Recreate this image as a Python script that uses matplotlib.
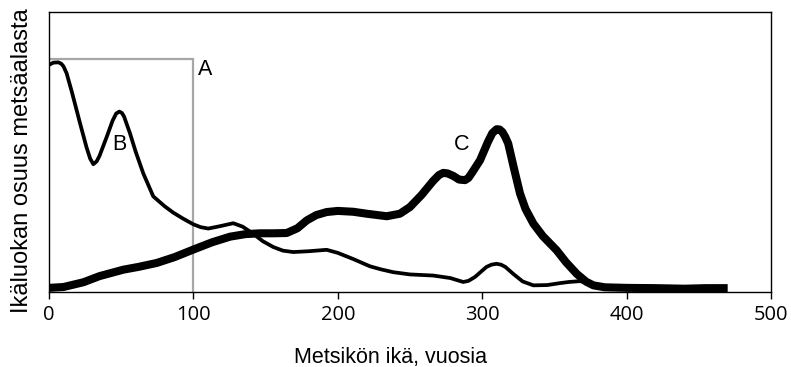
import matplotlib
matplotlib.use("Agg")
import matplotlib.pyplot as plt

# Curve B (young forests)
b_age = [0, 3, 6.5, 8.5, 10, 12.2, 16, 21.5, 26, 28.5, 30.7, 33, 35, 40, 44, 46.5, 48.7, 50.5,
         52, 56.1, 60, 65.3, 72.2, 80, 86, 93, 100, 105, 110.3, 118, 127.6, 134, 141, 148,
         155.3, 162, 169.2, 180, 192.3, 200, 210.7, 222.3, 230, 238.4, 250, 266.1, 278, 283,
         286.9, 290.5, 295, 303, 306.5, 309.9, 313, 316, 321.5, 328, 335.4, 345, 353.9, 360,
         367.7, 375, 382, 390, 400]
b_share = [81.0, 81.8, 81.9, 81.4, 80.5, 78, 71, 60.1, 51.5, 47.5, 45.5, 46.5, 48.5, 55.3, 61,
           63.6, 64.3, 63.8, 62.5, 56.5, 50, 42.2, 34, 30.5, 28.2, 26, 24, 23, 22.5, 23.3, 24.4,
           23.2, 20.8, 18, 15.9, 14.6, 14.1, 14.4, 14.9, 13.8, 11.6, 9.0, 7.9, 6.9, 6.1, 5.7,
           4.8, 4.0, 3.4, 3.8, 5.2, 8.8, 9.6, 9.9, 9.6, 8.8, 6.3, 3.6, 2.2, 2.3, 3.0, 3.4, 3.7,
           2.8, 2.0, 1.5, 1.3]

# Curve C (natural forests)
c_age = [0, 10, 23.8, 35, 51.5, 62, 74.6, 87, 100, 113, 125.4, 136, 146.1, 155, 164.6, 172,
         178.5, 185, 192.3, 200, 210.7, 220, 233.9, 243, 250, 258, 266, 270, 273, 276, 280,
         284, 288.1, 290.5, 293, 298.5, 304, 307, 310, 312, 314, 316, 318, 322, 326.2, 330,
         335.4, 342, 351.6, 358, 365.5, 372, 377, 385, 400, 420, 440, 455, 470]
c_share = [1.3, 1.6, 3.3, 5.5, 7.8, 8.8, 10.2, 12.3, 15.0, 17.6, 19.6, 20.5, 20.8, 20.8, 20.9,
           22.6, 25.4, 27.3, 28.4, 28.8, 28.5, 27.8, 26.9, 27.8, 30.2, 34.5, 39.5, 41.6, 42.4,
           42.2, 41.3, 40.0, 39.8, 40.6, 42.5, 46.9, 53.5, 56.6, 58.0, 57.9, 57.0, 55.2, 52.9,
           44, 35.0, 29.5, 24.3, 19.8, 14.7, 10.5, 6.3, 3.5, 2.2, 1.5, 1.3, 1.2, 1.0, 1.2, 1.2]

# Curve A (even-aged rotation, box)
a_age = [0, 100, 100]
a_share = [83.1, 83.1, 0]

xticks = [0, 100, 200, 300, 400, 500]
xlabel = "Metsikön ikä, vuosia"
ylabel = "Ikäluokan osuus metsäalasta"

fig = plt.figure(figsize=(7.91, 3.67), dpi=100)
ax = fig.add_axes([49 / 791, 1 - 291.5 / 367, (771 - 49) / 791, (291.5 - 11.7) / 367])

ax.plot(a_age, a_share, color="#a6a6a6", lw=1.6, solid_joinstyle="miter")
ax.plot(b_age, b_share, color="black", lw=2.7, solid_joinstyle="round", solid_capstyle="round")
ax.plot(c_age, c_share, color="black", lw=5.8, solid_joinstyle="round", solid_capstyle="butt")

ax.set_xlim(0, 500)
ax.set_ylim(0, 100)
ax.set_xticks(xticks)
ax.set_xticklabels([str(t) for t in xticks], fontfamily="Open Sans", fontsize=14.5)
ax.set_yticks([])
ax.tick_params(axis="x", direction="out", length=5, width=1, pad=5)
for s in ax.spines.values():
    s.set_linewidth(1.0)
    s.set_color("black")

lab = dict(fontfamily="Liberation Sans", fontsize=15.5, ha="center", va="center")
ax.text(108.4, 79.2, "A", **lab)
ax.text(48.5, 52.5, "B", **lab)
ax.text(285.7, 52.5, "C", **lab)

fig.text(391 / 791, 1 - 357 / 367, xlabel, fontfamily="Liberation Sans", fontsize=15.5,
         ha="center", va="center")
fig.text(22 / 791, 1 - 161 / 367, ylabel, fontfamily="Liberation Sans", fontsize=17,
         ha="center", va="center", rotation=90)

fig.savefig("out.png", dpi=100)
